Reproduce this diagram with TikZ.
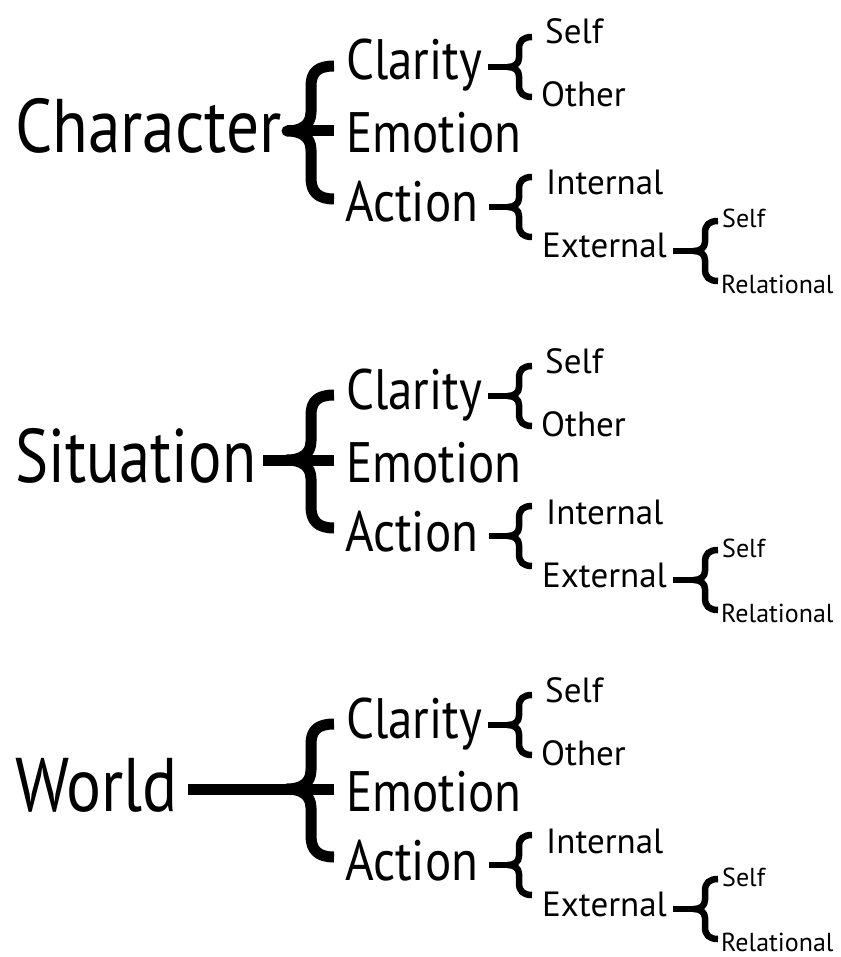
\documentclass[tikz,border=0pt]{standalone}
\usepackage{fontspec}
\setmainfont{PT Sans}[FakeStretch=0.86]
\newfontfamily\leaffont{PT Sans}

\tikzset{
  lvl0/.style={anchor=base west, inner sep=0pt, font=\fontsize{76}{80}\selectfont},
  lvl1/.style={anchor=base west, inner sep=0pt, font=\fontsize{57}{60}\selectfont},
  lvl2/.style={anchor=base west, inner sep=0pt, font=\leaffont\fontsize{35}{38}\selectfont},
  lvl3/.style={anchor=base west, inner sep=0pt, text depth=0pt, font=\leaffont\fontsize{26}{30}\selectfont},
  bigbrace/.style={line width=11pt, line cap=butt, line join=round},
  bar/.style={line width=11pt, line cap=butt},
  smallbrace/.style={line width=6.5pt, line cap=butt, line join=round},
  stub/.style={line width=6pt, line cap=butt},
}

% a small right-opening brace whose point sits at the origin of the shift
\newcommand{\smallcurly}[1]{%
  \draw[smallbrace, shift={(#1)}]
    (24,-30) .. controls (15,-30) and (11,-26) .. (11,-18)
    -- (11,-9) .. controls (11,-3) and (6,0) .. (0,0)
    .. controls (6,0) and (11,3) .. (11,9)
    -- (11,18) .. controls (11,26) and (15,30) .. (24,30);}

% one heading with its three branches and their sub-branches;
% #4 is where the bar from the heading starts, #5 narrows the heading
\newcommand{\trunk}[5]{%
\begin{scope}[shift={(0,#2)}]
  \node[lvl0, xscale=#5, transform shape] (#1-head) at (15,153) {#3};
  \coordinate (#1-root) at (#4,131);
  \coordinate (#1-cusp) at (287,131);
  \coordinate (#1-mid)  at (334,131);
  \node[lvl1] (#1-cla) at (346,80)  {Clarity};
  \node[lvl1] (#1-emo) at (346,153) {Emotion};
  \node[lvl1] (#1-act) at (345,222) {Action};
  \node[lvl2] (#1-cs)  at (545,44)  {Self};
  \node[lvl2] (#1-co)  at (541,107) {Other};
  \node[lvl2] (#1-ai)  at (546,195) {Internal};
  \node[lvl2] (#1-ae)  at (542,258) {External};
  \node[lvl3] (#1-es)  at (722,228) {Self};
  \node[lvl3] (#1-er)  at (721,293) {Relational};
  \coordinate (#1-kc) at (508,67);
  \coordinate (#1-kd) at (508,207);
  \coordinate (#1-ke) at (694,251);
  \coordinate (#1-sc) at (488,67);
  \coordinate (#1-sd) at (489,207);
  \coordinate (#1-se) at (673,251);
  % short bars leading into the small braces
  \draw[stub] (#1-sc) -- (#1-kc);
  \draw[stub] (#1-sd) -- (#1-kd);
  \draw[stub] (#1-se) -- (#1-ke);
  % bar from the heading and the stem to the middle branch
  \draw[bar] (#1-root) -- (#1-cusp);
  \draw[bar] (#1-cusp) -- (#1-mid);
  % large brace
  \draw[bigbrace]
    (334,66) .. controls (318,66) and (311,72) .. (311,86)
    -- (311,112) .. controls (311,126) and (300,131) .. (#1-cusp)
    .. controls (300,131) and (311,136) .. (311,150)
    -- (311,178) .. controls (311,192) and (318,199) .. (334,199);
  % small braces
  \smallcurly{#1-kc}
  \smallcurly{#1-kd}
  \smallcurly{#1-ke}
\end{scope}}

\begin{document}
\begin{tikzpicture}[x=1pt, y=-1pt]
  \useasboundingbox[fill=white] (0,0) rectangle (840,957);
  \trunk{ch}{0}{Character}{287}{1}
  \trunk{si}{329}{Situation}{263}{0.955}
  \trunk{wo}{658}{World}{188}{1}
\end{tikzpicture}
\end{document}
